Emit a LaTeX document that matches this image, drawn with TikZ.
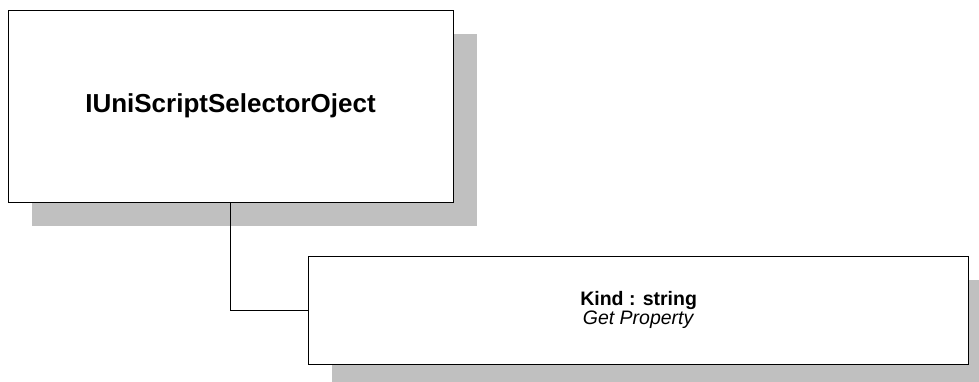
\documentclass[tikz,border=0pt]{standalone}
\usepackage{fontspec}
\setmainfont{Liberation Sans}
\pgfdeclarelayer{background}
\pgfsetlayers{background,main}
\begin{document}
\begin{tikzpicture}[x=1pt,y=-1pt,
  classbox/.style={draw=black, line width=0.9pt, fill=white, rectangle, inner sep=0pt},
  boxshadow/.style={fill=shadowgray, draw=none},
  link/.style={draw=black, line width=0.9pt}]
\definecolor{shadowgray}{HTML}{C0C0C0}
\useasboundingbox (0,0) rectangle (979,381);

% interface node
\node[classbox, minimum width=445pt, minimum height=192pt,
      font=\fontsize{26}{30}\selectfont\bfseries] (iface) at (230.5,106)
  {IUniScriptSelectorOject};
% property node
\node[classbox, minimum width=660.5pt, minimum height=108pt, align=center,
      font=\fontsize{19.5}{19}\selectfont] (prop) at (638.6,310)
  {\textbf{Kind : string}\\\textit{Get Property}};

% drop shadows behind the boxes
\begin{pgfonlayer}{background}
\fill[boxshadow] ([shift={(24pt,-24pt)}]iface.south west) rectangle ([shift={(24pt,-24pt)}]iface.north east);
\fill[boxshadow] ([shift={(24pt,-24pt)}]prop.south west) rectangle ([shift={(24pt,-24pt)}]prop.north east);
\end{pgfonlayer}

% connector
\draw[link] (iface.south) |- (prop.west);
\end{tikzpicture}
\end{document}
